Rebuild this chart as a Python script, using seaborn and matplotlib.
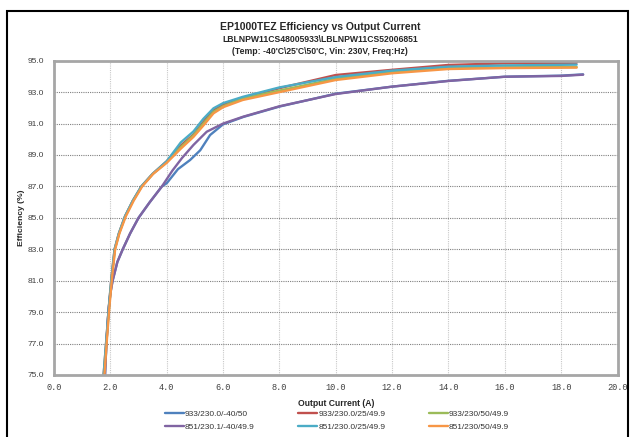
import matplotlib
matplotlib.use("Agg")
import matplotlib.pyplot as plt
import seaborn as sns
import pandas as pd
from matplotlib.patches import Rectangle
from matplotlib.ticker import FixedLocator
from matplotlib import font_manager

# series: output current (A) / efficiency (%)
x_933_m40 = [1.81, 1.86, 1.93, 2.0, 2.08, 2.25, 2.44, 2.7, 3.0, 3.4, 3.83, 4.0, 4.4, 4.83,
             5.19, 5.54, 6.0, 6.72, 8.0, 10.0, 12.0, 14.0, 16.0, 18.0, 18.78]
y_933_m40 = [75.0, 77.0, 79.0, 80.2, 81.0, 82.2, 83.0, 84.0, 85.0, 86.0, 87.0, 87.2, 88.1, 88.68,
             89.3, 90.27, 90.95, 91.42, 92.08, 92.9, 93.35, 93.72, 93.98, 94.05, 94.13]

x_933_25 = [1.76, 1.86, 1.95, 2.04, 2.15, 2.3, 2.52, 2.8, 3.1, 3.5, 4.0, 4.5, 4.95, 5.3,
            5.66, 6.0, 6.7, 8.0, 10.0, 12.0, 14.0, 16.0, 18.55]
y_933_25 = [75.0, 77.3, 79.4, 81.2, 83.0, 84.0, 85.1, 86.1, 87.0, 87.8, 88.6, 89.6, 90.3, 91.1,
            91.85, 92.2, 92.65, 93.25, 94.09, 94.42, 94.73, 94.83, 94.87]

x_933_50 = [1.77, 1.87, 1.96, 2.05, 2.16, 2.31, 2.53, 2.81, 3.11, 3.51, 4.0, 4.5, 4.95, 5.3,
            5.66, 6.0, 6.7, 8.0, 10.0, 12.0, 14.0, 16.0, 18.55]
y_933_50 = [75.0, 77.3, 79.4, 81.2, 83.0, 84.0, 85.1, 86.1, 87.0, 87.8, 88.55, 89.5, 90.25, 91.0,
            91.75, 92.1, 92.6, 93.1, 93.85, 94.28, 94.52, 94.58, 94.6]

x_851_m40 = [1.81, 1.86, 1.93, 2.0, 2.08, 2.25, 2.44, 2.7, 3.0, 3.4, 3.83, 4.2, 4.54, 4.95,
             5.42, 6.0, 6.72, 8.0, 10.0, 12.0, 14.0, 16.0, 18.0, 18.78]
y_851_m40 = [75.0, 77.0, 79.0, 80.2, 81.0, 82.2, 83.0, 84.0, 85.0, 86.0, 87.0, 88.0, 88.8, 89.64,
             90.48, 91.0, 91.44, 92.1, 92.88, 93.35, 93.71, 93.98, 94.03, 94.11]

x_851_25 = [1.76, 1.86, 1.95, 2.04, 2.15, 2.3, 2.52, 2.8, 3.1, 3.5, 4.0, 4.5, 4.95, 5.3,
            5.66, 6.0, 6.7, 8.0, 10.0, 12.0, 14.0, 16.0, 18.55]
y_851_25 = [75.0, 77.3, 79.4, 81.2, 83.0, 84.0, 85.1, 86.1, 87.0, 87.8, 88.6, 89.8, 90.5, 91.3,
            91.97, 92.3, 92.7, 93.3, 93.96, 94.37, 94.62, 94.7, 94.75]

x_851_50 = [1.79, 1.88, 1.97, 2.06, 2.17, 2.32, 2.55, 2.83, 3.13, 3.52, 4.0, 4.5, 4.95, 5.3,
            5.66, 6.0, 6.7, 8.0, 10.0, 12.0, 14.0, 16.0, 18.55]
y_851_50 = [75.0, 77.3, 79.4, 81.2, 83.0, 84.0, 85.1, 86.1, 87.0, 87.8, 88.5, 89.4, 90.15, 90.87,
            91.65, 92.04, 92.5, 93.0, 93.77, 94.2, 94.47, 94.53, 94.56]

series = [
    ("933/230.0/-40/50", x_933_m40, y_933_m40, "#4F81BD"),
    ("933/230.0/25/49.9", x_933_25, y_933_25, "#C0504D"),
    ("933/230/50/49.9", x_933_50, y_933_50, "#9BBB59"),
    ("851/230.1/-40/49.9", x_851_m40, y_851_m40, "#8064A2"),
    ("851/230.0/25/49.9", x_851_25, y_851_25, "#4BACC6"),
    ("851/230/50/49.9", x_851_50, y_851_50, "#F79646"),
]

x_ticks = [0, 2, 4, 6, 8, 10, 12, 14, 16, 18, 20]
y_ticks = [75, 77, 79, 81, 83, 85, 87, 89, 91, 93, 95]

sns.set_style("white")
plt.rcParams['font.family'] = ['Liberation Sans', 'DejaVu Sans']

# narrow face if it is there, else plain Liberation Sans a bit smaller
names = {f.name for f in font_manager.fontManager.ttflist}
has_narrow = 'Liberation Sans Narrow' in names
narrow = 'Liberation Sans Narrow' if has_narrow else 'Liberation Sans'
k = 1.0 if has_narrow else 0.9

fig = plt.figure(figsize=(6.3, 4.37), dpi=100)
ax = fig.add_axes([54 / 630, 62 / 437, 563.5 / 630, 314.3 / 437])

for name, xs, ys, col in series:
    df = pd.DataFrame({"x": xs, "y": ys})
    sns.lineplot(data=df, x="x", y="y", ax=ax, color=col, lw=1.7, label=name,
                 sort=False, estimator=None)

ax.set_xlim(0, 20)
ax.set_ylim(75, 95)
ax.xaxis.set_major_locator(FixedLocator(x_ticks))
ax.yaxis.set_major_locator(FixedLocator(y_ticks))
ax.set_xticklabels([f"{v:.1f}" for v in x_ticks], family='Liberation Mono',
                   fontsize=6.2, color='#404040')
ax.set_yticklabels([f"{v:.1f}" for v in y_ticks], fontsize=6, color='#404040')
ax.tick_params(axis='both', length=0)
ax.tick_params(axis='x', pad=6)
ax.tick_params(axis='y', pad=7)

ax.grid(axis='y', color='#808080', ls=(0, (1, 1)), lw=0.8)
ax.grid(axis='x', color='#C8C8C8', ls=(0, (1, 1)), lw=0.8)
for s in ax.spines.values():
    s.set_color('#A6A6A6')
    s.set_linewidth(2)

ax.set_xlabel("Output Current (A)", family=narrow, fontweight='bold', fontsize=6.9 * k, labelpad=5)
ax.set_ylabel("Efficiency (%)", family=narrow, fontweight='bold', fontsize=6.8 * k, labelpad=2)

fig.text(0.508, 1 - 27 / 437, "EP1000TEZ Efficiency vs Output Current", ha='center',
         va='center', fontsize=7.5, fontweight='bold')
fig.text(0.508, 1 - 39.5 / 437, "LBLNPW11CS48005933\\LBLNPW11CS52006851", ha='center',
         va='center', fontsize=6.2, fontweight='bold')
fig.text(0.508, 1 - 52 / 437, "(Temp: -40'C\\25'C\\50'C, Vin: 230V, Freq:Hz)", ha='center',
         va='center', fontsize=6.2, fontweight='bold')

# legend: row-wise order 933 top, 851 bottom
handles, labels = ax.get_legend_handles_labels()
ax.legend_.remove()
order = [0, 3, 1, 4, 2, 5]
fs = 6.6 * k
fig.legend([handles[i] for i in order], [labels[i] for i in order], ncol=3,
           loc='center', bbox_to_anchor=(337 / 630, 1 - 420.7 / 437), frameon=False,
           prop={'family': narrow, 'size': fs}, handlelength=19 / (fs * 100 / 72),
           handletextpad=0.1, columnspacing=44 / (fs * 100 / 72),
           labelspacing=0.55 / k, labelcolor='#333333')

fig.add_artist(Rectangle((7 / 630, -0.05), 621 / 630, 1.05 - 11 / 437,
                         transform=fig.transFigure, fill=False, ec='black', lw=1.5))

fig.savefig("out.png", dpi=100)
